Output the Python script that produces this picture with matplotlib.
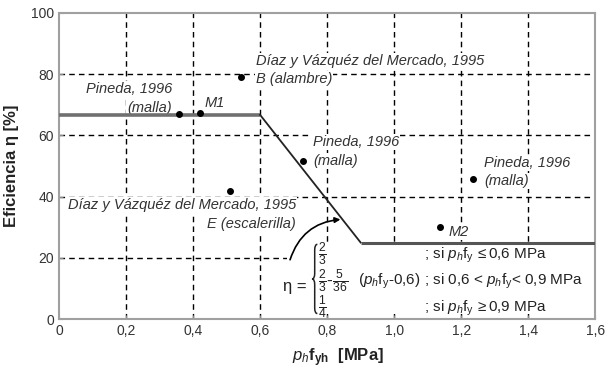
import numpy as np
import matplotlib.pyplot as plt
from matplotlib.patches import Rectangle, PathPatch
from matplotlib.path import Path

plt.rcParams["font.family"] = ["Liberation Sans", "DejaVu Sans"]
plt.rcParams["mathtext.fontset"] = "custom"
plt.rcParams["mathtext.rm"] = "Liberation Sans"
plt.rcParams["mathtext.it"] = "Liberation Sans:italic"
plt.rcParams["mathtext.bf"] = "Liberation Sans:bold"

# =========================
# Data
# =========================
# design curve breakpoints (p_h f_yh [MPa], efficiency [%])
curve_x = [0.0, 0.6, 0.9, 1.6]
curve_eta = [66.7, 66.7, 25.0, 25.0]

# experimental points
pt_x = [0.358, 0.421, 0.543, 0.729, 1.236, 0.510, 1.137]
pt_eta = [67.0, 67.3, 79.0, 51.6, 45.7, 41.8, 30.0]

xticks = [0.0, 0.2, 0.4, 0.6, 0.8, 1.0, 1.2, 1.4, 1.6]
xtick_labels = ["0", "0,2", "0,4", "0,6", "0,8", "1,0", "1,2", "1,4", "1,6"]
yticks = [0, 20, 40, 60, 80, 100]


def brace(ax, x_tip, x_end, y_bot, y_top, **kw):
    # left-pointing curly brace built from quadratic curves
    ym = 0.5 * (y_bot + y_top)
    xc = 0.5 * (x_tip + x_end)
    d = 0.08 * (y_top - y_bot)
    verts = [
        (x_end, y_top), (xc, y_top), (xc, y_top - d),
        (xc, ym + d),
        (xc, ym), (x_tip, ym),
        (xc, ym), (xc, ym - d),
        (xc, y_bot + d),
        (xc, y_bot), (x_end, y_bot),
    ]
    codes = [Path.MOVETO, Path.CURVE3, Path.CURVE3,
             Path.LINETO,
             Path.CURVE3, Path.CURVE3,
             Path.CURVE3, Path.CURVE3,
             Path.LINETO,
             Path.CURVE3, Path.CURVE3]
    ax.add_patch(PathPatch(Path(verts, codes), fc="none", **kw))


# =========================
# Figure
# =========================
fig = plt.figure(figsize=(6.08, 3.68), dpi=100)
ax = fig.add_axes([0.097, 0.133, 0.882, 0.832])
ax.set_xlim(0, 1.6)
ax.set_ylim(0, 100)

# dashed grid (drawn as lines so text boxes can hide it)
for gx in xticks[1:-1]:
    ax.axvline(gx, color="black", lw=1.0, ls=(0, (4, 3)), zorder=1)
for gy in yticks[1:-1]:
    ax.axhline(gy, color="black", lw=1.0, ls=(0, (4, 3)), zorder=1)

# design curve
ax.plot(curve_x[:2], curve_eta[:2], color="#707070", lw=2.6, zorder=4,
        solid_capstyle="butt")
ax.plot(curve_x[1:3], curve_eta[1:3], color="#222222", lw=1.3, zorder=4)
ax.plot(curve_x[2:], curve_eta[2:], color="#555555", lw=2.2, zorder=4,
        solid_capstyle="butt")

ax.plot(pt_x, pt_eta, "o", color="black", ms=4, zorder=5)

# point labels
box = dict(fc="white", ec="none", pad=0.6)
lab = dict(fontsize=10.5, style="italic", color="#333333", va="center",
           bbox=box, zorder=3)
ax.text(0.588, 84.3, "Díaz y Vázquéz del Mercado, 1995", ha="left", **lab)
ax.text(0.588, 78.4, "B (alambre)", ha="left", **lab)
ax.text(0.337, 75.2, "Pineda, 1996", ha="right", **lab)
ax.text(0.337, 69.0, "(malla)", ha="right", **lab)
ax.text(0.433, 70.6, "M1", ha="left", **lab)
ax.text(0.758, 57.8, "Pineda, 1996", ha="left", **lab)
ax.text(0.758, 51.6, "(malla)", ha="left", **lab)
ax.text(1.269, 51.0, "Pineda, 1996", ha="left", **lab)
ax.text(1.269, 45.1, "(malla)", ha="left", **lab)
ax.text(0.707, 37.3, "Díaz y Vázquéz del Mercado, 1995", ha="right", **lab)
ax.text(0.707, 31.0, "E (escalerilla)", ha="right", **lab)
ax.text(1.161, 28.4, "M2", ha="left", **lab)

# formula block
ax.add_patch(Rectangle((0.68, 1.5), 0.915, 22.6, fc="white", ec="none",
                       zorder=2))
fm = dict(fontsize=11, color="#222222", va="center", zorder=6)
fr = dict(fontsize=12.5, color="#222222", va="center", zorder=6)
ax.text(0.669, 10.5, "η =", ha="left", fontsize=12, color="#222222",
        va="center", zorder=6)
brace(ax, 0.755, 0.771, 1.8, 24.4, ec="#222222", lw=1.1, zorder=6)
ax.text(0.773, 21.3, r"$\frac{2}{3}$", ha="left", **fr)
ax.text(0.773, 12.3, r"$\frac{2}{3}$-$\frac{5}{36}$", ha="left", **fr)
ax.text(0.893, 12.3, r"($p_h$f$_\mathrm{y}$-0,6)", ha="left", **fm)
ax.text(0.773, 3.7, r"$\frac{1}{4}$", ha="left", **fr)
ax.text(1.09, 20.9, r"; si $p_h$f$_\mathrm{y}$$\,\leq$0,6 MPa", ha="left", **fm)
ax.text(1.09, 12.3, r"; si 0,6 < $p_h$f$_\mathrm{y}$< 0,9 MPa", ha="left", **fm)
ax.text(1.09, 3.4, r"; si $p_h$f$_\mathrm{y}$$\,\geq$0,9 MPa", ha="left", **fm)

# curved arrow from formula to design line
ax.annotate("", xy=(0.848, 32.6), xytext=(0.687, 18.5),
            arrowprops=dict(arrowstyle="-|>", color="black", lw=1.2,
                            mutation_scale=8,
                            connectionstyle="arc3,rad=-0.35"),
            zorder=7)

# axes styling
ax.set_xticks(xticks)
ax.set_xticklabels(xtick_labels)
ax.set_yticks(yticks)
ax.tick_params(direction="in", length=3, color="#888888", labelsize=10,
               labelcolor="#333333")
for s in ax.spines.values():
    s.set_color("#a0a0a0")
    s.set_linewidth(1.5)

ax.set_xlabel(r"$\mathbf{\mathit{p_h}}$f$_\mathbf{yh}$  [MPa]", fontsize=12,
              fontweight="bold", color="#222222")
ax.xaxis.set_label_coords(0.52, -0.09)
ax.set_ylabel("Eficiencia η [%]", fontsize=12, fontweight="bold",
              color="#222222")
ax.yaxis.set_label_coords(-0.075, 0.5)

fig.savefig("out.png", dpi=100)
